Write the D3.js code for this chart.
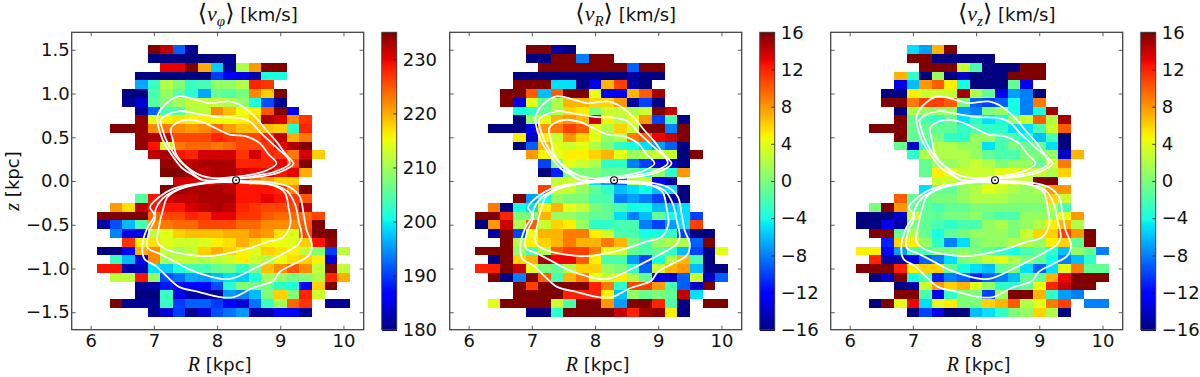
<!DOCTYPE html>
<html>
<head>
<meta charset="UTF-8" />
<title>Velocity maps</title>
<script src="https://d3js.org/d3.v7.min.js"></script>
<style>
    html, body { margin: 0; padding: 0; background: #fff; }
    svg { display: block; }
    text { font-family: 'DejaVu Sans', sans-serif; font-size: 18px; fill: #111; }
    .math { font-family: 'Liberation Serif', serif; font-style: italic; }
</style>
</head>
<body>
<div id="chart"></div>
<script>
var _ = null;

var rBins = [6.2,6.4,6.6,6.8,7.0,7.2,7.4,7.6,7.8,8.0,8.2,8.4,8.6,8.8,9.0,9.2,9.4,9.6,9.8,10.0];
var zBins = [1.5,1.4,1.3,1.2,1.1,1.0,0.9,0.8,0.7,0.6,0.5,0.4,0.3,0.2,0.1,0.0,-0.1,-0.2,-0.3,-0.4,-0.5,-0.6,-0.7,-0.8,-0.9,-1.0,-1.1,-1.2,-1.3,-1.4,-1.5];

var rTicks = [6,7,8,9,10];
var zTicks = [1.5,1.0,0.5,0.0,-0.5,-1.0,-1.5];
var phiTicks = [180,190,200,210,220,230];
var velTicks = [-16,-12,-8,-4,0,4,8,12,16];

// one row per zBins entry, one column per rBins entry, short rows just stop early
var vPhi = [
  [_,_,_,_,235,232,192,181],
  [_,_,_,_,180,180,180,180,180,180,181],
  [_,_,_,_,_,230,230,235,220,198,181,211,221,235,235],
  [_,_,_,180,180,180,180,180,180,190,186,185,182,201,201],
  [_,_,_,196,203,211,208,203,204,209,209,211,228,227],
  [_,_,180,180,204,209,205,202,196,206,205,207,222,218,235],
  [_,_,181,184,205,208,210,212,212,212,211,209,201,191,181],
  [_,_,_,181,192,204,205,211,212,222,219,215,216,225,235,186],
  [_,_,_,234,214,216,217,216,216,215,215,216,218,233,231,222,227],
  [_,235,235,234,222,223,222,221,222,224,221,219,219,219,218,202,228],
  [_,_,_,234,233,232,226,226,226,228,227,226,226,228,232,220,223],
  [_,_,_,234,229,213,223,224,224,223,224,226,226,227,230,233,235],
  [_,_,_,_,232,233,229,228,231,231,231,227,231,228,227,223,231,218],
  [_,_,_,_,_,234,233,232,233,233,233,228,228,228,230,226,235],
  [_,_,_,_,_,235,235,233,232,233,233,231,230,231,229,230,220],
  [_,_,_,_,_,_,231,231,230,231,231,229,224,221,218,218],
  [_,_,_,_,_,235,234,233,233,233,232,229,229,229,228,222,235],
  [_,_,_,205,229,231,232,232,233,233,233,229,229,230,229,227,225],
  [_,221,217,232,229,229,229,231,232,233,232,228,227,226,226,226,232],
  [235,235,235,235,224,226,226,228,227,230,230,227,227,225,224,224,224,226],
  [182,191,197,204,222,223,224,224,226,226,226,224,224,222,222,222,225,235],
  [_,194,185,185,212,214,218,219,219,219,220,220,222,221,217,214,226,235,235],
  [_,_,227,216,217,214,213,213,214,216,217,220,218,216,215,214,218,229,234],
  [180,180,186,220,222,212,210,212,218,220,218,216,214,218,217,216,212,208,190,212],
  [_,203,197,185,222,210,212,212,211,212,213,216,213,211,215,217,218,216,184],
  [229,229,182,183,199,198,201,204,204,206,207,203,207,219,222,225,222,212,235,212],
  [_,212,212,229,209,191,193,196,195,197,199,198,201,210,209,207,208,211,228,220],
  [_,_,_,181,182,188,186,187,186,191,202,208,207,207,202,201,187,218,235],
  [_,_,_,180,180,203,185,182,182,181,195,194,197,208,218,208,228,213],
  [_,235,181,181,181,203,190,192,192,190,186,184,193,203,210,224,227,_,181,181],
  [_,_,_,_,181,184,190,181,184,191,193,195,182,182,186,186,181]
];

var vR = [
  [_,_,_,_,16,16,-15,-16],
  [_,_,_,_,-16,-16,16,16,-8,16,16],
  [_,_,_,_,_,16,16,16,16,16,16,16,-9,16,16],
  [_,_,_,-16,-16,-16,-16,-16,-16,-16,-16,-16,-15,-16,-16],
  [_,_,_,16,16,16,-5,-5,-16,-13,7,11,-15,-16],
  [_,_,16,16,10,-6,10,16,16,4,-12,-13,7,10,15],
  [_,_,16,-13,4,-1,2,7,7,6,6,8,-15,-10,-16],
  [_,_,_,-4,-3,-1,2,6,5,0,3,3,2,3,16,14],
  [_,_,_,-16,1,4,7,8,7,14,5,2,4,8,-10,-2,-16],
  [_,-16,-16,-16,-13,8,9,11,10,4,2,6,3,16,16,-8,16],
  [_,_,_,5,-14,5,3,8,6,4,1,2,9,10,13,14,16],
  [_,_,_,-16,-9,7,4,3,4,2,0,-3,-4,-5,-7,-9,-16],
  [_,_,_,_,8,5,4,5,5,6,7,4,1,2,3,3,-16,16],
  [_,_,_,_,_,-10,0,4,3,2,-3,-3,-8,-10,-13,-14,-16],
  [_,_,_,_,_,-16,-11,0,0,0,-1,-1,-1,-3,1,-3,8],
  [_,_,_,_,_,_,3,3,2,-5,-7,-9,2,3,-12,-15],
  [_,_,_,_,_,11,3,3,1,-1,-3,-6,-5,-4,-6,-5,-16],
  [_,_,_,16,-7,-4,1,0,0,-2,-2,-8,-7,-8,-10,-15,-16],
  [_,9,-16,-4,-5,5,7,4,3,0,-1,-2,-4,-4,-6,-6,-5],
  [16,16,12,0,0,7,1,1,0,-1,-1,-5,-8,-6,-1,-4,-5,-10],
  [-16,8,14,2,10,3,6,5,1,-3,-3,-2,-2,-8,-10,-7,-5,11],
  [_,-15,16,-10,4,7,7,9,9,5,3,-2,-2,-4,-4,-3,-10,-16,-16],
  [_,_,16,2,5,6,7,9,7,7,9,7,0,-2,1,2,2,-9,16],
  [16,16,16,1,-2,2,10,11,11,9,4,3,-1,-2,-1,-3,-6,-10,-16,4],
  [_,-16,16,6,7,15,13,13,10,5,-2,-2,-7,-10,-4,2,7,-2,-16],
  [12,12,16,14,4,0,-1,2,6,6,1,0,-3,-9,3,7,8,-6,-16,-16],
  [_,16,-16,-8,16,10,-2,7,9,4,3,5,2,-1,-13,-14,-9,3,-14,-9],
  [_,_,_,16,11,16,16,16,16,12,9,-3,11,11,8,-2,-9,-14,16],
  [_,_,_,16,16,16,16,12,12,12,5,-6,1,-1,0,-1,14,-5],
  [_,4,16,16,16,16,3,-2,16,16,8,-7,16,16,12,-2,-16,_,16,16],
  [_,_,_,_,-16,-16,-3,16,16,16,16,14,12,15,15.5,5,-16]
];

var vZ = [
  [_,_,_,_,-5,-7,7,16],
  [_,_,_,_,16,16,-16,-16,-16,-16,-16],
  [_,_,_,_,_,16,16,16,3,-2,-16,-16,-16,16,16],
  [_,_,_,7,-3,-16,1,-16,-14,-16,-16,-16,16,16,16],
  [_,_,_,-13,-6,8,10,5,-4,-16,-16,-16,-1,-13],
  [_,_,-16,-16,5,3,3,3,15,2,-1,-13,-7,-8,-16],
  [_,_,16,16,9,11,11,10,0,-9,-10,-9,-4,-8,9],
  [_,_,_,-16,2,1,1,1,-7,-8,0,1,-4,-8,-4,15],
  [_,_,_,16,-1,-2,-3,-1,-5,-3,-5,-4,1,3,10,2,15],
  [_,16,16,16,-1,-1,-1,-1,-3,-2,-3,-3,-5,-5,-2,3,10],
  [_,_,_,16,-1,-1,0,-3,-3,1,1,-2,-2,-4,-6,-2,-16],
  [_,_,_,-1,-14,-3,2,2,1,1,-5,-2,0,-1,-1,-5,-16],
  [_,_,_,_,-3,2,2,2,2,1,-1,-2,-2,0,0,1,-14,7],
  [_,_,_,_,_,-1,1,1,2,3,2,0,1,1,-1,3,9],
  [_,_,_,_,_,-1,5,4,3,3,3,4,4,3,3,2,6],
  [_,_,_,_,_,_,3,3,2,1,3,4,3,3,16,16],
  [_,_,_,_,_,-5,-1,-1,1,2,4,3,2,1,2,8,8],
  [_,_,_,10,-1,-1,0,0,1,2,2,2,1,1,1,6,3],
  [_,0,16,8,-1,-1,-2,-1,-1,0,0,0,0,0,0,2,-2],
  [-16,-16,-16,-14,3,-1,-1,0,0,1,-1,-2,-2,1,1,1,4,8],
  [-16,-16,-13,-15,0,-1,-2,-3,-2,-2,1,2,0,1,2,5,7,2],
  [_,16,16,-1,2,-1,-4,-1,0,1,1,1,0,3,6,6,11,8,16],
  [_,_,-11,6,5,1,-3,-8,-5,0,1,1,2,2,1,5,6,-1,16],
  [5,5,-12,-7,-2,-2,0,0,1,0,-1,-3,-4,-2,-1,-3,-6,1,-1,-8],
  [_,12,-15,-15,-13,-9,-8,-5,0,1,3,4,2,0,-1,-4,-8,-6,-3],
  [16,16,16,12,5,6,6,-1,-4,-5,-6,-1,0,-5,-9,-5,4,9,-1,-1],
  [_,-16,-14,16,-4,-2,-11,-8,-9,-11,-9,-8,-6,-1,-1,7,13,16,16,16],
  [_,_,_,-16,-15,3,8,6,7,4,1,-3,-3,-1,4,12,14,16,16],
  [_,_,_,16,16,-2,-13,-3,0,0,-10,1,16,16,7,-3,-7,-8],
  [_,-16,16,4,13,-5,4,5,0,0,6,7,10,2,4,9,11,_,-8,-8],
  [_,_,_,_,-16,-10,-13,-16,-16,-6,-5,-3,0,1,6,2,-16]
];

// density contours as [R, z], same in all three panels
var contourTopOuter = [[7.40,.97],[7.62,.94],[7.88,.89],[8.20,.91],[8.41,.85],[8.62,.72],[8.78,.58],[8.94,.45],[9.10,.29],[9.21,.20],[8.99,.10],[8.68,.05],[8.31,.03],[7.78,.01],[7.62,.07],[7.46,.14],[7.30,.28],[7.14,.47],[7.06,.66],[7.06,.75],[7.17,.87]];
var contourTopMiddle = [[7.40,.80],[7.67,.77],[8.04,.73],[8.36,.72],[8.52,.68],[8.68,.56],[8.84,.45],[8.99,.35],[9.10,.28],[9.15,.20],[8.89,.10],[8.68,.07],[8.36,.03],[7.78,.01],[7.51,.16],[7.35,.28],[7.22,.43],[7.14,.58],[7.11,.70],[7.19,.75]];
var contourTopInner = [[7.54,.70],[7.78,.67],[7.99,.60],[8.20,.53],[8.46,.51],[8.68,.43],[8.81,.31],[8.94,.20],[8.78,.12],[8.52,.07],[8.31,.05],[7.99,.03],[7.72,.07],[7.46,.20],[7.35,.31],[7.30,.47],[7.27,.60],[7.35,.66]];
var contourLowOuter = [[7.78,-.02],[8.36,0],[8.89,-.02],[9.15,-.07],[9.31,-.18],[9.37,-.38],[9.42,-.57],[9.50,-.72],[9.45,-.85],[9.21,-.95],[8.99,-1.04],[8.89,-1.14],[8.57,-1.22],[8.25,-1.33],[7.99,-1.32],[7.72,-1.27],[7.40,-1.21],[7.19,-1.08],[7.03,-.97],[6.85,-.89],[6.82,-.72],[6.90,-.53],[7.01,-.39],[6.94,-.30],[7.09,-.18],[7.30,-.09]];
var contourLowMiddle = [[7.83,-.02],[8.78,-.03],[9.10,-.11],[9.23,-.26],[9.29,-.45],[9.34,-.64],[9.29,-.72],[9.10,-.81],[8.89,-.89],[8.62,-.99],[8.20,-1.12],[7.83,-1.08],[7.56,-1.01],[7.30,-.91],[7.09,-.83],[6.90,-.76],[6.93,-.57],[7.01,-.45],[7.03,-.32],[7.14,-.20],[7.40,-.09]];
var contourLowInner = [[7.88,-.02],[8.46,-.02],[8.89,-.05],[9.07,-.13],[9.13,-.30],[9.16,-.49],[9.05,-.64],[8.78,-.70],[8.46,-.78],[8.15,-.83],[7.83,-.86],[7.51,-.84],[7.19,-.78],[7.06,-.70],[7.09,-.49],[7.14,-.34],[7.22,-.18],[7.46,-.08]];
var contours = [contourTopOuter, contourTopMiddle, contourTopInner, contourLowOuter, contourLowMiddle, contourLowInner];

var sunR = 8.3, sunZ = 0.01;

var panels = [
    {sub: "\u03c6", grid: vPhi, range: [180,235], ticks: phiTicks, left: 71.7},
    {sub: "R", grid: vR, range: [-16,16], ticks: velTicks, left: 449.7},
    {sub: "z", grid: vZ, range: [-16,16], ticks: velTicks, left: 830.7}
];

var w = 1200, h = 377;
var axW = 292, axTop = 32.3, axBottom = 329.7;
var binW = 0.2, binH = 0.1;
var cbGap = 18, cbW = 15;

// matplotlib jet, channel by channel
var jetR = d3.scaleLinear().domain([0,.35,.66,.89,1]).range([0,0,1,1,.5]);
var jetG = d3.scaleLinear().domain([0,.125,.375,.64,.91,1]).range([0,0,1,1,0,0]);
var jetB = d3.scaleLinear().domain([0,.11,.34,.65,1]).range([.5,1,1,0,0]);
var jet = function(t){
    return d3.rgb(jetR(t)*255, jetG(t)*255, jetB(t)*255).formatRgb();
};

var minus = function(s){ return String(s).replace("-", "\u2212"); };

var svg = d3.select("#chart").append("svg")
    .attr("width", w)
    .attr("height", h);

var x0 = d3.scaleLinear().domain([5.7,10.32]).range([0,axW]);
var y = d3.scaleLinear().domain([1.7,-1.7]).range([axTop,axBottom]);

var line = d3.line()
    .x(function(d){ return x0(d[0]); })
    .y(function(d){ return y(d[1]); })
    .curve(d3.curveCatmullRomClosed.alpha(0.5));

panels.forEach(function(p, pi){
    var g = svg.append("g").attr("transform", "translate(" + p.left + ",0)");
    var norm = d3.scaleLinear().domain(p.range).range([0,1]).clamp(true);

    var cells = [];
    p.grid.forEach(function(row, i){
        row.forEach(function(v, j){
            if (v !== null) cells.push({r: rBins[j], z: zBins[i], v: v});
        });
    });

    g.selectAll("rect.cell")
        .data(cells)
        .enter().append("rect")
        .attr("class", "cell")
        .attr("x", function(d){ return x0(d.r - binW/2); })
        .attr("y", function(d){ return y(d.z + binH/2); })
        .attr("width", x0(binW) - x0(0))
        .attr("height", y(0) - y(binH))
        .attr("shape-rendering", "crispEdges")
        .attr("fill", function(d){ return jet(norm(d.v)); });

    g.selectAll("path.contour")
        .data(contours)
        .enter().append("path")
        .attr("class", "contour")
        .attr("d", line)
        .attr("fill", "none")
        .attr("stroke", "#fff")
        .attr("stroke-width", 1.8)
        .attr("stroke-linejoin", "round");

    // sun symbol
    g.append("circle")
        .attr("cx", x0(sunR)).attr("cy", y(sunZ)).attr("r", 3.4)
        .attr("fill", "#fff").attr("fill-opacity", 0.6).attr("stroke", "#000").attr("stroke-width", 1.2);
    g.append("circle")
        .attr("cx", x0(sunR)).attr("cy", y(sunZ)).attr("r", 0.9)
        .attr("fill", "#000");

    // frame and inward ticks on all four sides
    var tickLen = 4;
    var axB = d3.axisBottom(x0).tickValues(rTicks).tickSize(-tickLen).tickPadding(5)
        .tickFormat(d3.format("d"));
    var axT = d3.axisTop(x0).tickValues(rTicks).tickSize(-tickLen).tickFormat("");
    var axL = d3.axisLeft(y).tickValues(zTicks).tickSize(-tickLen).tickPadding(2)
        .tickFormat(function(d){ return minus(d3.format(".1f")(d)); });
    var axR = d3.axisRight(y).tickValues(zTicks).tickSize(-tickLen).tickFormat("");

    g.append("g").attr("transform", "translate(0," + axBottom + ")").call(axB);
    g.append("g").attr("transform", "translate(0," + axTop + ")").call(axT);
    var gl = g.append("g").call(axL);
    g.append("g").attr("transform", "translate(" + axW + ",0)").call(axR);
    if (pi > 0) gl.selectAll("text").remove();

    g.selectAll(".domain").remove();
    g.selectAll(".tick line").attr("stroke", "#333").attr("stroke-width", 0.8);
    g.selectAll(".tick text").style("font-family", "'DejaVu Sans', sans-serif").style("font-size", "18px").attr("fill", "#111");

    g.append("rect")
        .attr("x", 0).attr("y", axTop).attr("width", axW).attr("height", axBottom - axTop)
        .attr("fill", "none").attr("stroke", "#444").attr("stroke-width", 1.3);

    // x label
    var xl = g.append("text")
        .attr("x", axW/2 + 2).attr("y", 371).attr("text-anchor", "middle");
    xl.append("tspan").attr("class", "math").style("font-size", "20px").text("R");
    xl.append("tspan").text(" [kpc]");

    // title
    var tt = g.append("text")
        .attr("x", axW/2 + 30).attr("y", 21).attr("text-anchor", "middle");
    tt.append("tspan").style("font-size", "24px").text("\u27e8");
    tt.append("tspan").attr("class", "math").style("font-size", "22px").text("v");
    tt.append("tspan").attr("class", "math").attr("dy", 5).style("font-size", "15px").text(p.sub);
    tt.append("tspan").attr("dy", -5).style("font-size", "24px").text("\u27e9");
    tt.append("tspan").text(" [km/s]");

    // colorbar
    var cbScale = d3.scaleLinear().domain(p.range).range([axBottom, axTop]);
    var stops = d3.range(0, axBottom - axTop);
    g.selectAll("rect.cb")
        .data(stops)
        .enter().append("rect")
        .attr("class", "cb")
        .attr("x", axW + cbGap)
        .attr("y", function(d){ return axTop + d; })
        .attr("width", cbW)
        .attr("height", 1.2)
        .attr("shape-rendering", "crispEdges")
        .attr("fill", function(d){ return jet(1 - d/(axBottom - axTop)); });
    var cbAxis = d3.axisRight(cbScale).tickValues(p.ticks).tickSize(-3.5).tickPadding(6)
        .tickFormat(function(d){ return minus(d); });
    var cbG = g.append("g").attr("transform", "translate(" + (axW + cbGap + cbW) + ",0)").call(cbAxis);
    cbG.select(".domain").remove();
    cbG.selectAll(".tick line").attr("stroke", "#111").attr("stroke-width", 0.8);
    cbG.selectAll(".tick text").style("font-family", "'DejaVu Sans', sans-serif").style("font-size", "18px").attr("fill", "#111");
    g.append("rect")
        .attr("x", axW + cbGap).attr("y", axTop).attr("width", cbW).attr("height", axBottom - axTop)
        .attr("fill", "none").attr("stroke", "#444").attr("stroke-width", 1);
});

// y label only on the first panel
var yl = svg.append("text")
    .attr("transform", "translate(19,181) rotate(-90)")
    .attr("text-anchor", "middle");
yl.append("tspan").attr("class", "math").style("font-size", "20px").text("z");
yl.append("tspan").text(" [kpc]");
</script>
</body>
</html>
